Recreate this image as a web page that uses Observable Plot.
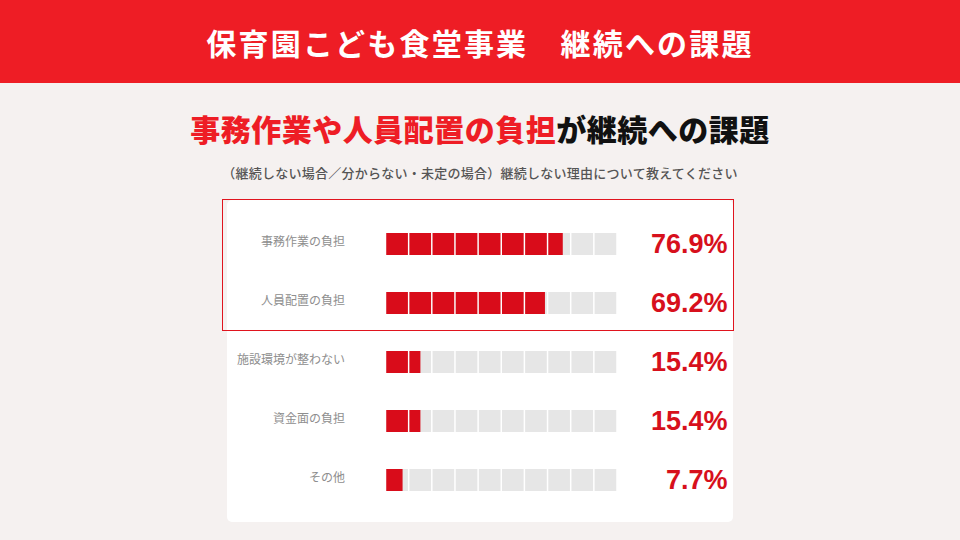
<!DOCTYPE html>
<html lang="ja">
<head>
<meta charset="utf-8">
<script src="https://cdn.jsdelivr.net/npm/d3@7"></script>
<script src="https://cdn.jsdelivr.net/npm/@observablehq/plot@0.6"></script>
<style>
  html, body { margin: 0; padding: 0; }
  body { width: 960px; height: 540px; background: #F5F1F0; position: relative; overflow: hidden;
         font-family: "Noto Sans CJK JP", "Noto Sans", sans-serif; }
  #banner { position: absolute; left: 0; top: 0; width: 960px; height: 83px; background: #EE1D25;
            color: #fff; font-weight: 700; font-size: 30px; letter-spacing: 2.2px;
            display: flex; align-items: center; justify-content: center; }
  #headline { position: absolute; left: 0; top: 105px; width: 960px; text-align: center;
              font-weight: 900; font-size: 30px; line-height: 46px; color: #111; letter-spacing: 0.5px; }
  #headline .red { color: #EE1D25; }
  #sub { position: absolute; left: 0; top: 163px; width: 960px; text-align: center;
         font-size: 13px; line-height: 20px; color: #555; font-weight: 500; letter-spacing: 0.25px; }
  #panel { position: absolute; left: 227px; top: 200px; width: 506px; height: 322px;
           background: #fff; border-radius: 5px; }
  #outline { position: absolute; left: 222px; top: 199px; width: 510px; height: 130px;
             border: 1px solid #E0141E; }
  #chart { position: absolute; left: 0; top: 200px; }
</style>
</head>
<body>
<div id="banner">保育園こども食堂事業　継続への課題</div>
<div id="headline"><span class="red">事務作業や人員配置の負担</span>が継続への課題</div>
<div id="sub">（継続しない場合／分からない・未定の場合）継続しない理由について教えてください</div>
<div id="panel"></div>
<div id="outline"></div>
<div id="chart"></div>
<script>
const categories = ["事務作業の負担", "人員配置の負担", "施設環境が整わない", "資金面の負担", "その他"];
const values = [76.9, 69.2, 15.4, 15.4, 7.7];
const valueLabels = ["76.9%", "69.2%", "15.4%", "15.4%", "7.7%"];
const cellCount = 10;

const rows = categories.map((c, k) => ({cat: c, value: values[k], label: valueLabels[k]}));
const cells = [];
for (const r of rows) {
  for (let i = 0; i < cellCount; i++) {
    const lo = i * 100 / cellCount, hi = (i + 1) * 100 / cellCount;
    cells.push({cat: r.cat, x1: lo, x2: hi, filled: Math.max(lo, Math.min(r.value, hi))});
  }
}
const redCells = cells.filter(d => d.filled > d.x1);

const chart = Plot.plot({
  width: 960,
  height: 320,
  margin: 0,
  style: {background: "transparent", fontFamily: "'Noto Sans CJK JP', sans-serif"},
  x: {domain: [0, 100], range: [385.5, 617], axis: null},
  y: {domain: categories, range: [12, 312], paddingInner: 0.633, paddingOuter: 0.3167, axis: null},
  marks: [
    Plot.rect(cells, {x1: "x1", x2: "x2", y: "cat", fill: "#E6E6E6", insetLeft: 0.75, insetRight: 0.75}),
    Plot.rect(redCells, {x1: "x1", x2: "filled", y: "cat", fill: "#D90C1A", insetLeft: 0.75, insetRight: 0.75}),
    Plot.text(rows, {x: 0, y: "cat", text: "cat", textAnchor: "end", dx: -41, dy: -2,
      fill: "#8E8E8E", fontSize: 12, fontWeight: 400}),
    Plot.text(rows, {x: 100, y: "cat", text: "label", textAnchor: "end", dx: 110, dy: 0,
      fill: "#D7101C", fontSize: 27, fontWeight: 700,
      fontFamily: "'Liberation Sans', Arial, sans-serif"})
  ]
});
document.getElementById("chart").appendChild(chart);
</script>
</body>
</html>
